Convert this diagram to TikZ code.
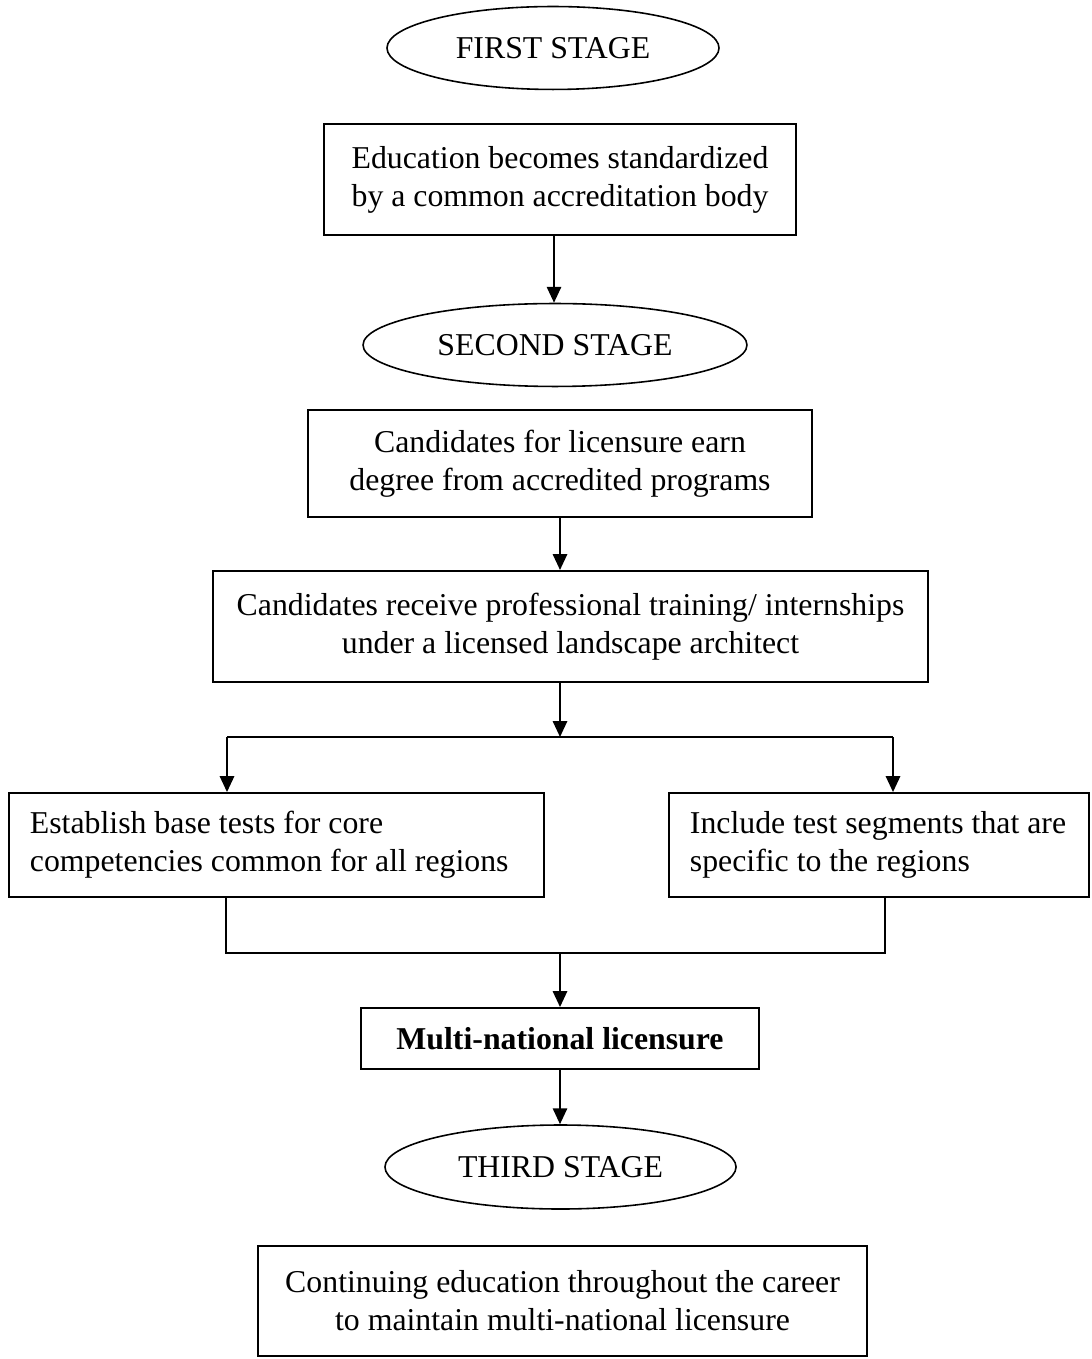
\documentclass[tikz,border=0pt]{standalone}
\usepackage{fontspec}
\setmainfont{Liberation Serif}
\usetikzlibrary{shapes.geometric,arrows.meta}
\begin{document}
\begin{tikzpicture}[x=0.3774pt,y=-0.3774pt,
  every node/.style={font=\fontsize{12pt}{14.3pt}\selectfont},
  stage/.style={draw,line width=0.6pt,ellipse,inner sep=0pt},
  box/.style={draw,line width=0.75pt,rectangle,inner sep=0pt,align=center},
  lbox/.style={draw,line width=0.75pt,rectangle,inner ysep=0pt,inner xsep=7.9pt,align=left,
    execute at begin node={\spaceskip=0pt\xspaceskip=0pt\relax}},
  arr/.style={line width=0.75pt,-{Triangle[length=6pt,width=5.4pt]}},
  ln/.style={line width=0.75pt}]
\useasboundingbox (0,0) rectangle (1091,1359);
\node[stage,minimum width=125.3pt,minimum height=31.3pt] (e1) at (553,48) {FIRST STAGE};
\node[box,minimum width=178.1pt,minimum height=41.9pt] (b1) at (560,179.5) {Education becomes standardized\\by a common accreditation body};
\node[stage,minimum width=144.9pt,minimum height=31.3pt] (e2) at (555,345) {SECOND STAGE};
\node[box,minimum width=190.2pt,minimum height=40.4pt] (b2) at (560,463.5) {Candidates for licensure earn\\degree from accredited programs};
\node[box,minimum width=269.8pt,minimum height=41.9pt] (b3) at (570.5,626.5) {Candidates receive professional training/ internships\\under a licensed landscape architect};
\node[lbox,text width=186.1pt,minimum height=39.2pt] (b4) at (276.5,845) {\mbox{Establish base tests for core}\\\mbox{competencies common for all regions}};
\node[lbox,text width=142.7pt,minimum height=39.2pt] (b5) at (879,845) {\mbox{Include test segments that are}\\\mbox{specific to the regions}};
\node[box,minimum width=150.2pt,minimum height=23pt,font=\fontsize{12pt}{14.3pt}\selectfont\bfseries] (b6) at (560,1038.5) {Multi-national licensure};
\node[stage,minimum width=132.5pt,minimum height=31.7pt] (e3) at (560.5,1167) {THIRD STAGE};
\node[box,minimum width=229.8pt,minimum height=41.5pt] (b7) at (562.5,1301) {Continuing education throughout the career\\to maintain multi-national licensure};
\coordinate (c1) at (554,235);
\coordinate (j1) at (560,737);
\coordinate (bl) at (227,737);
\coordinate (br) at (893,737);
\coordinate (jl) at (226,953);
\coordinate (jr) at (885,953);
\coordinate (j2) at (560,953);
\draw[arr] (b1.south -| c1) -- (e2.north -| c1);
\draw[arr] (b2.south) -- (b2.south |- b3.north);
\draw[arr] (b3.south -| j1) -- (j1);
\draw[ln] (bl) -- (br);
\draw[arr] (bl) -- (bl |- b4.north);
\draw[arr] (br) -- (br |- b5.north);
\draw[ln] (jl |- b4.south) -- (jl) -- (jr) -- (jr |- b5.south);
\draw[arr] (j2) -- (j2 |- b6.north);
\draw[arr] (b6.south) -- (b6.south |- e3.north);
\end{tikzpicture}
\end{document}
